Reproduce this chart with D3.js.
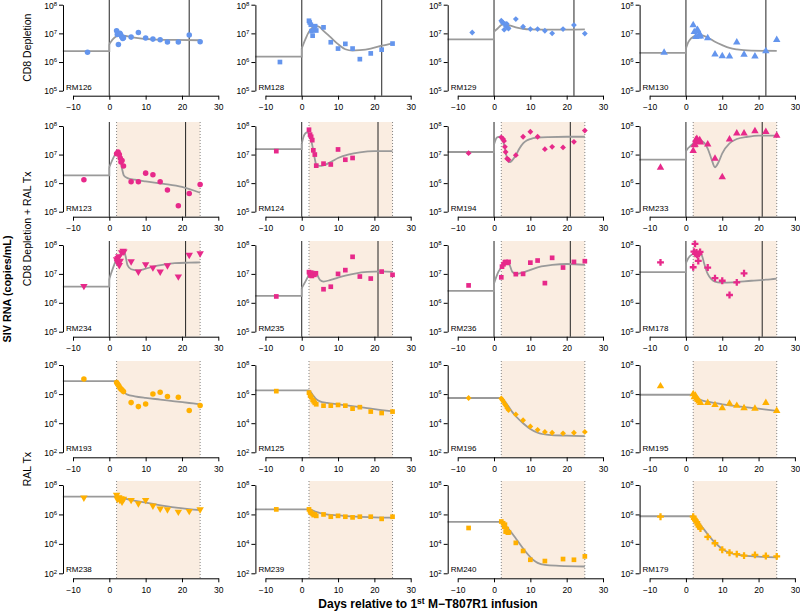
<!DOCTYPE html>
<html><head><meta charset="utf-8">
<script src="https://cdn.jsdelivr.net/npm/d3@7"></script>
<style>body{margin:0;background:#fff} svg{display:block} text{font-family:"Liberation Sans",Arial,Helvetica,sans-serif}</style>
</head><body><svg id="c" width="800" height="612"></svg>
<script>
// ---------- layout of panels (ids) ----------
const panelIds = [
  ["RM126","RM128","RM129","RM130"],
  ["RM123","RM124","RM194","RM233"],
  ["RM234","RM235","RM236","RM178"],
  ["RM193","RM125","RM196","RM195"],
  ["RM238","RM239","RM240","RM179"]
];
const panelShapes = [
  ["circle","square","diamond","triangle"],
  ["circle","square","diamond","triangle"],
  ["triangleDown","square","square","plus"],
  ["circle","square","diamond","triangle"],
  ["triangleDown","square","square","plus"]
];
const rowColors = ["#6495ED","#E7298A","#E7298A","#FFB000","#FFB000"];
const groupLabels = ["CD8 Depletion","CD8 Depletion + RAL Tx","RAL Tx"];
const xTicks = [-10,0,10,20,30];
const yTicksHigh = [1e5,1e6,1e7,1e8];
const yTicksLow = [1e2,1e4,1e6,1e8];
const rowEndLine = [22,21,21,null,null];

// ---------- observed data (days, copies/mL) and fitted curves ----------
const d_RM126=[-6,2,2.2,2.5,2.9,3.1,3.4,3.7,3.9,6,8,10,12,14,16,19,22,25];
const v_RM126=[2.2e6,1.23e7,9.1e6,4.1e6,1.0e7,9.1e6,7.6e6,6.6e6,7.1e6,7.4e6,1.07e7,6.9e6,6.3e6,6.0e6,5.0e6,5.0e6,8.7e6,5.1e6];
const fd_RM126=[-12.8,0,0,0.5,1,2,3,4,6,9,12,18,25];
const fv_RM126=[2.4e6,2.4e6,4.2e6,5.2e6,6.3e6,7.9e6,8.5e6,8.3e6,7.4e6,6.6e6,6.2e6,5.9e6,5.75e6];

const d_RM128=[-6,2,2.2,2.5,2.7,3,3.3,3.7,4,6,8,10,12,14,16,19,22,25];
const v_RM128=[1.0e6,2.75e7,2.4e7,2.0e7,1.2e7,8.3e6,1.32e7,1.78e7,1.26e7,1.62e7,4.9e6,2.95e6,4.3e6,2.95e6,1.26e6,2.0e6,2.7e6,4.4e6];
const fd_RM128=[-12.8,0,0,1,2,3,4,5,6,8,10,12,14,16,19,22,25];
const fv_RM128=[1.55e6,1.55e6,3.0e6,6.2e6,1.15e7,1.62e7,1.82e7,1.62e7,1.23e7,7.2e6,4.2e6,2.8e6,2.5e6,2.6e6,2.95e6,3.7e6,4.5e6];

const d_RM129=[-6,2,2.3,2.5,2.8,3,3.2,3.5,3.8,4,6,8,10,12,14,16,19,22,25];
const v_RM129=[1.07e7,2.75e7,2.4e7,2.35e7,1.35e7,2.15e7,1.82e7,2.15e7,1.58e7,1.48e7,3.16e7,1.7e7,1.41e7,1.41e7,1.23e7,1.0e7,1.41e7,1.95e7,9.8e6];
const fd_RM129=[-12.8,0,0,1,2,3,4,6,8,10,14,20,25];
const fv_RM129=[6.2e6,6.2e6,1.15e7,1.48e7,1.95e7,2.15e7,1.95e7,1.62e7,1.45e7,1.38e7,1.35e7,1.35e7,1.38e7];

const d_RM130=[-6,2,2.3,2.7,2.9,3.2,3.5,3.8,4,6,8,10,12,14,16,19,22,25];
const v_RM130=[2.15e6,1.95e7,1.12e7,7.6e6,1.2e7,1.32e7,7.9e6,9.5e6,7.9e6,6.9e6,1.86e6,1.62e6,1.58e6,4.9e6,1.82e6,1.58e6,2.4e6,6.0e6];
const fd_RM130=[-12.8,0,0,0.5,1,2,3,4,6,8,10,12,14,18,25];
const fv_RM130=[2.1e6,2.1e6,2.95e6,4.5e6,5.8e6,7.6e6,8.5e6,8.7e6,7.2e6,5.1e6,3.9e6,3.1e6,2.75e6,2.5e6,2.45e6];

const d_RM123=[-7,2,2.4,2.75,3,3.2,3.5,3.9,6,8,10,12,14,16,19,22,25];
const v_RM123=[1.32e6,1.07e7,1.23e7,1.0e7,7.6e6,5.5e6,6.2e6,4.0e6,1.12e6,1.12e6,2.24e6,1.95e6,1.12e6,5.8e5,1.62e5,4.3e5,8.9e5];
const fd_RM123=[-12.8,0,0,1,2,2.5,3,3.5,4,5,7,10,15,20,25];
const fv_RM123=[1.86e6,1.86e6,3.6e6,7.2e6,1.17e7,1.23e7,7.2e6,3.2e6,1.86e6,1.5e6,1.32e6,1.15e6,9.5e5,7.4e5,4.6e5];

const d_RM124=[-7,2,2.3,2.6,2.9,3.2,3.6,4,6,8,10,12,14];
const v_RM124=[1.32e7,7.4e7,5.0e7,4.2e7,3.2e7,1.41e7,1.0e7,4.1e6,4.8e6,4.5e6,1.51e7,6.6e6,7.6e6];
const fd_RM124=[-12.8,0,0,0.5,1,1.5,2,2.5,3,3.5,4,5,6,8,10,13,16,20,25];
const fv_RM124=[1.55e7,1.55e7,2.45e7,4.2e7,5.5e7,6.0e7,5.4e7,3.6e7,1.86e7,8.3e6,4.5e6,4.0e6,4.2e6,5.5e6,7.6e6,1.02e7,1.2e7,1.32e7,1.32e7];

const d_RM194=[-7,2,2.5,2.75,3,3.2,3.6,4,6,8,10,12,14,16,19,22,25];
const v_RM194=[1.12e7,4.0e7,3.5e7,3.0e7,1.86e7,1.23e7,7.2e6,6.6e6,9.5e6,4.2e7,6.3e7,4.2e7,1.55e7,1.86e7,1.78e7,2.8e7,6.9e7];
const fd_RM194=[-12.8,0,0,0.5,1,1.5,2,2.5,3,3.5,4,4.5,5,6,7,8,9,10,12,15,20,25];
const fv_RM194=[1.23e7,1.23e7,2.25e7,3.5e7,4.1e7,4.2e7,3.9e7,3.0e7,1.62e7,8.3e6,5.5e6,5.5e6,6.3e6,9.5e6,1.62e7,2.45e7,3.1e7,3.5e7,3.9e7,4.1e7,4.2e7,4.2e7];

const d_RM233=[-7,2,2.3,2.5,2.7,3,3.2,3.5,3.8,4,6,8,10,12,14,16,19,22,25];
const v_RM233=[3.5e6,1.35e7,2.15e7,2.25e7,3.2e7,3.6e7,3.0e7,2.8e7,3.2e7,2.7e7,2.3e7,7.2e6,1.62e6,3.4e7,5.5e7,5.5e7,6.6e7,6.3e7,4.6e7];
const fd_RM233=[-12.8,0,0,0.5,1,2,3,4,5,6,7,8,9,10,12,14,17,20,25];
const fv_RM233=[6.6e6,6.6e6,1.32e7,1.62e7,1.86e7,2.45e7,2.95e7,3.0e7,2.6e7,1.62e7,7.2e6,3.6e6,5.5e6,1.1e7,2.45e7,3.5e7,4.2e7,4.6e7,4.6e7];

const d_RM234=[-7,2,2.2,2.4,2.6,2.75,3,3.4,3.8,4,6,8,10,12,14,16,19,22,25];
const v_RM234=[3.8e6,3.2e7,2.6e7,3.5e7,4.0e7,2.0e7,2.8e7,5.5e7,6.3e7,5.9e7,2.7e7,1.2e7,2.15e7,1.66e7,1.2e7,1.95e7,8.1e6,4.5e7,5.1e7];
const fd_RM234=[-12.8,0,0,0.5,1,2,3,3.5,4,4.5,5,6,8,10,12,15,18,22,25];
const fv_RM234=[3.6e6,3.6e6,6.6e6,1.05e7,1.58e7,3.2e7,4.6e7,5.5e7,6.5e7,4.0e7,2.0e7,1.45e7,1.32e7,1.51e7,1.78e7,2.1e7,2.35e7,2.45e7,2.5e7];

const d_RM235=[-7,2,2.2,2.4,2.6,2.8,3,3.2,3.5,3.9,6,8,10,12,14,16,19,22,25];
const v_RM235=[1.66e6,1.15e7,1.05e7,8.9e6,1.1e7,8.5e6,9.5e6,1.0e7,9.3e6,1.05e7,2.95e6,3.6e6,1.0e7,1.35e7,3.9e7,8.1e6,6.9e6,1.2e7,9.3e6];
const fd_RM235=[-12.8,0,0,1,2,2.5,3,3.5,4,5,6,8,10,12,15,18,22,25];
const fv_RM235=[1.74e6,1.74e6,3.2e6,5.4e6,9.3e6,1.12e7,1.2e7,1.2e7,1.05e7,6.2e6,5.4e6,6.2e6,7.4e6,8.7e6,1.05e7,1.17e7,1.23e7,1.17e7];

const d_RM236=[-7,2,2.2,2.6,3,3.2,3.5,3.7,4,6,8,10,12,14,16,19,22,25];
const v_RM236=[4.0e6,7.6e6,1.78e7,2.15e7,2.5e7,2.6e7,2.5e7,2.4e7,2.6e7,9.8e6,1.0e7,2.45e7,2.9e7,4.8e6,3.6e7,1.66e7,2.6e7,2.75e7];
const fd_RM236=[-12.8,0,0,0.5,1,2,3,3.5,4,5,6,8,10,13,16,20,25];
const fv_RM236=[2.6e6,2.6e6,4.7e6,7.1e6,1.05e7,1.66e7,2.5e7,2.7e7,2.5e7,1.2e7,1.0e7,1.12e7,1.38e7,1.82e7,2.05e7,2.2e7,2.05e7];

const d_RM178=[-7,2,2.2,2.5,2.6,2.9,3.1,3.4,3.6,3.9,6,8,10,12,14,16];
const v_RM178=[2.5e7,1.7e7,5.9e7,1.1e8,4.9e7,5.5e7,4.6e7,2.8e7,4.9e7,5.8e7,1.66e7,7.1e6,5.8e6,1.86e6,5.1e6,1.05e7];
const fd_RM178=[-12.8,0,0,0.5,1,2,3,3.5,4,4.5,5,6,7,8,9.5,13,18,22,25];
const fv_RM178=[1.15e7,1.15e7,2.35e7,3.2e7,4.0e7,4.9e7,5.4e7,5.5e7,5.2e7,4.0e7,2.35e7,1.0e7,6.6e6,5.4e6,5.0e6,5.1e6,5.8e6,6.3e6,6.9e6];

const d_RM193=[-7,2,2.3,2.6,2.9,3.2,3.5,3.9,6,8,10,12,14,16,19,22,25];
const v_RM193=[1.1e7,6.2e6,4.7e6,3.8e6,2.75e6,2.25e6,1.9e6,1.48e6,2.6e5,1.38e5,2.1e5,1.0e6,1.32e6,6.8e5,6.0e5,7.4e4,1.62e5];
const fd_RM193=[-12.8,2,2.5,3,3.5,4,4.5,5,7,10,14,18,22,25];
const fv_RM193=[7.9e6,7.9e6,6.2e6,3.8e6,2.25e6,1.48e6,1.07e6,9.1e5,7.1e5,5.5e5,4.2e5,3.2e5,2.45e5,2.0e5];

const d_RM125=[-7,2,2.3,2.6,3,3.3,3.6,4,6,8,10,12,14,16,19,22,25];
const v_RM125=[1.6e6,1.26e6,8e5,6.3e5,4e5,3.2e5,2.5e5,2e5,1.6e5,1.6e5,1.8e5,1.6e5,1e5,1.26e5,6.3e4,5e4,6.3e4];
const fd_RM125=[-12.8,2,3,4,5,7,10,14,18,22,25];
const fv_RM125=[1.8e6,1.8e6,9e5,4.5e5,3.2e5,2.5e5,2e5,1.5e5,1.1e5,8e4,6.5e4];

const d_RM196=[-7,2,2.3,2.6,3,3.3,3.6,4,6,8,10,12,14,16,19,22,25];
const v_RM196=[5.4e5,5e5,4e5,3e5,2e5,1.6e5,1.1e5,8e4,4e4,1.6e4,6e3,3.5e3,2.5e3,2.2e3,2e3,2.2e3,2.5e3];
const fd_RM196=[-12.8,2,3,4,5,6,8,10,12,15,20,25];
const fv_RM196=[5.4e5,5.4e5,3e5,1.4e5,6e4,3e4,1e4,4e3,2.2e3,1.6e3,1.4e3,1.3e3];

const d_RM195=[-7,2,2.3,2.6,3,3.3,3.6,4,6,8,10,12,14,16,19,22,25];
const v_RM195=[3.5e6,1e6,6.3e5,8e5,5e5,4e5,3.2e5,2.5e5,2.5e5,1.8e5,1.1e5,2.2e5,1.6e5,1.1e5,1e5,2.5e5,7e4];
const fd_RM195=[-12.8,2,3,4,6,10,15,20,25];
const fv_RM195=[9e5,9e5,6e5,4e5,3e5,2e5,1.4e5,1e5,7e4];

const d_RM238=[-7,2,2.2,2.4,2.6,2.9,3.2,3.5,3.9,6,8,10,12,14,16,19,22,25];
const v_RM238=[1.38e7,2.1e7,1.12e7,1.32e7,1.45e7,9.5e6,1.23e7,7.2e6,1.12e7,9.5e6,5.6e6,9.5e6,3.9e6,2.45e6,2.2e6,1.51e6,1.7e6,2.2e6];
const fd_RM238=[-12.8,2,4,6,8,10,13,16,19,22,25];
const fv_RM238=[1.6e7,1.6e7,1.23e7,9.5e6,7.8e6,6.3e6,4.6e6,3.5e6,2.8e6,2.3e6,2.0e6];

const d_RM239=[-7,2,2.3,2.6,3,3.3,3.6,4,6,8,10,12,14,16,19,22,25];
const v_RM239=[2.2e6,2.2e6,1.6e6,1.3e6,1.1e6,9e5,1e6,8e5,1e6,7e5,8e5,7e5,6.3e5,7e5,7e5,5e5,7e5];
const fd_RM239=[-12.8,2,4,6,10,15,20,25];
const fv_RM239=[2.2e6,2.2e6,1.5e6,1.1e6,8.5e5,7e5,6.3e5,6e5];

const d_RM240=[-7,2,2.5,2.8,3,3.2,3.5,3.8,4.1,6,8,10,14,19,22,25];
const v_RM240=[1.2e5,3.3e5,2.5e5,1.48e5,2.0e5,6.8e4,1.02e5,5.8e4,6.0e4,1.17e4,3.3e3,8.3e2,6.8e2,9.3e2,8.3e2,1.41e3];
const fd_RM240=[-12.8,2,3,4,5,6,7.5,9,10,11,12,14,18,25];
const fv_RM240=[3.1e5,3.1e5,1.95e5,1.02e5,5.1e4,2.35e4,7.2e3,2.4e3,1.26e3,7.4e2,5.1e2,3.7e2,3.2e2,2.9e2];

const d_RM179=[-7,2,2.3,2.6,3,3.3,3.6,4,6,8,10,12,14,16,19,22,25];
const v_RM179=[7e5,7e5,5e5,4e5,3e5,2e5,1.5e5,1.1e5,3e4,1.1e4,4e3,2.5e3,2e3,1.6e3,1.8e3,1.5e3,1.4e3];
const fd_RM179=[-12.8,2,3,4,6,8,10,12,15,20,25];
const fv_RM179=[7.5e5,7.5e5,4e5,2e5,4.5e4,1.2e4,4.5e3,2.5e3,1.7e3,1.35e3,1.2e3];

const series = {
  RM126:[d_RM126,v_RM126,fd_RM126,fv_RM126], RM128:[d_RM128,v_RM128,fd_RM128,fv_RM128],
  RM129:[d_RM129,v_RM129,fd_RM129,fv_RM129], RM130:[d_RM130,v_RM130,fd_RM130,fv_RM130],
  RM123:[d_RM123,v_RM123,fd_RM123,fv_RM123], RM124:[d_RM124,v_RM124,fd_RM124,fv_RM124],
  RM194:[d_RM194,v_RM194,fd_RM194,fv_RM194], RM233:[d_RM233,v_RM233,fd_RM233,fv_RM233],
  RM234:[d_RM234,v_RM234,fd_RM234,fv_RM234], RM235:[d_RM235,v_RM235,fd_RM235,fv_RM235],
  RM236:[d_RM236,v_RM236,fd_RM236,fv_RM236], RM178:[d_RM178,v_RM178,fd_RM178,fv_RM178],
  RM193:[d_RM193,v_RM193,fd_RM193,fv_RM193], RM125:[d_RM125,v_RM125,fd_RM125,fv_RM125],
  RM196:[d_RM196,v_RM196,fd_RM196,fv_RM196], RM195:[d_RM195,v_RM195,fd_RM195,fv_RM195],
  RM238:[d_RM238,v_RM238,fd_RM238,fv_RM238], RM239:[d_RM239,v_RM239,fd_RM239,fv_RM239],
  RM240:[d_RM240,v_RM240,fd_RM240,fv_RM240], RM179:[d_RM179,v_RM179,fd_RM179,fv_RM179]
};

// ---------- drawing ----------
const svg = d3.select("#c");
const axisX = [63, 255.4, 447.7, 639.6];
const rowTop = [4.7, 126, 245, 365, 485];
const rowBot = [90.7, 211.7, 331.7, 452.3, 573.3];
const symMap = {
  circle:[d3.symbolCircle,0,24], square:[d3.symbolSquare,0,22], diamond:[d3.symbolSquare,45,17],
  triangle:[d3.symbolTriangle,0,24], triangleDown:[d3.symbolTriangle,180,24], plus:[d3.symbolCross,0,26]
};

function sup(sel, base, exp){
  sel.append("tspan").text(base);
  sel.append("tspan").attr("dy",-3.2).attr("font-size",6).text(exp);
}

panelIds.forEach((row,r)=>{
  row.forEach((id,c)=>{
    const [days, vals, fdays, fvals] = series[id];
    const ax = axisX[c];
    const x = d3.scaleLinear().domain([-10,30]).range([ax+10, ax+155.3]);
    const y = d3.scaleLog().domain(r<3?[1e5,1e8]:[1e2,1e8]).range([rowBot[r], rowTop[r]]);
    const top = rowTop[r]-4, bot = rowBot[r]+5;
    const g = svg.append("g");
    if(r>=1){
      g.append("rect").attr("x",x(2)).attr("y",top).attr("width",x(25)-x(2)).attr("height",bot-top).attr("fill","#FAEDE1");
      [2,25].forEach(dv=>g.append("line").attr("x1",x(dv)).attr("x2",x(dv)).attr("y1",top).attr("y2",bot)
        .attr("stroke","#777").attr("stroke-width",0.9).attr("stroke-dasharray","1,2"));
    }
    if(r<3){
      [0,rowEndLine[r]].forEach(dv=>g.append("line").attr("x1",x(dv)).attr("x2",x(dv)).attr("y1",r==0?0:top).attr("y2",bot)
        .attr("stroke",r==0?"#555":"#222").attr("stroke-width",r==0?1.3:1));
    }
    // fitted curve
    const pts = fdays.map((d,i)=>[d,fvals[i]]);
    let k = pts.findIndex((p,i)=>i>0 && p[0]===pts[i-1][0]);
    const lineLin = d3.line().x(p=>x(p[0])).y(p=>y(p[1]));
    const lineMono = d3.line().x(p=>x(p[0])).y(p=>y(p[1])).curve(d3.curveMonotoneX);
    if(k>0){
      g.append("path").attr("d",lineLin(pts.slice(0,k+1))).attr("fill","none").attr("stroke","#9a9a9a").attr("stroke-width",1.8);
      g.append("path").attr("d",lineMono(pts.slice(k))).attr("fill","none").attr("stroke","#9a9a9a").attr("stroke-width",1.8);
    } else {
      g.append("path").attr("d",lineMono(pts)).attr("fill","none").attr("stroke","#9a9a9a").attr("stroke-width",1.8);
    }
    // points
    const [sym, rot, size] = symMap[panelShapes[r][c]];
    g.selectAll("path.pt").data(days.map((d,i)=>[d,vals[i]])).join("path").attr("class","pt")
      .attr("d",d3.symbol(sym,size)())
      .attr("transform",p=>`translate(${x(p[0])},${y(p[1])}) rotate(${rot})`)
      .attr("fill",rowColors[r]);
    // y axis
    const yt = r<3?yTicksHigh:yTicksLow;
    const ya = g.append("g").attr("transform",`translate(${ax},0)`)
      .call(d3.axisLeft(y).tickValues(yt).tickSizeInner(4).tickSizeOuter(0).tickFormat(""));
    ya.select(".domain").attr("stroke","#000").attr("stroke-width",1);
    ya.selectAll(".tick line").attr("stroke","#000");
    yt.forEach(v=>{
      const t = g.append("text").attr("x",ax-6).attr("y",Math.max(y(v)+3.4,9.2)).attr("text-anchor","end").attr("font-size",8.5);
      sup(t,"10",Math.round(Math.log10(v)));
    });
    // x axis
    const xa = g.append("g").attr("transform",`translate(0,${bot})`)
      .call(d3.axisBottom(x).tickValues(xTicks).tickSizeInner(4).tickSizeOuter(0).tickFormat(d=>d<0?"\u2212"+(-d):d));
    xa.select(".domain").attr("stroke","#000");
    xa.selectAll(".tick line").attr("stroke","#000");
    xa.selectAll("text").attr("font-size",8.5).attr("fill","#000").attr("font-family","Liberation Sans, Arial, sans-serif").attr("dy","0.9em");
    // panel label
    g.append("text").attr("x",ax+3).attr("y",rowBot[r]-1).attr("font-size",8).text(id);
  });
});

// group labels
const grpCenters = [(rowTop[0]+rowBot[0])/2,(rowTop[1]+rowBot[2])/2,(rowTop[3]+rowBot[4])/2];
groupLabels.forEach((lab,i)=>{
  svg.append("text").attr("transform",`translate(31,${grpCenters[i]}) rotate(-90)`).attr("text-anchor","middle")
    .attr("font-size",10.5).text(lab);
});
svg.append("text").attr("transform",`translate(11,${(rowTop[0]+rowBot[4])/2}) rotate(-90)`).attr("text-anchor","middle")
  .attr("font-size",10.8).attr("font-weight","bold").text("SIV RNA (copies/mL)");
const xt = svg.append("text").attr("x",428).attr("y",608).attr("text-anchor","middle").attr("font-size",12).attr("font-weight","bold");
xt.append("tspan").text("Days relative to 1");
xt.append("tspan").attr("dy",-4).attr("font-size",8.5).text("st");
xt.append("tspan").attr("dy",4).text(" M\u2212T807R1 infusion");
</script></body></html>
